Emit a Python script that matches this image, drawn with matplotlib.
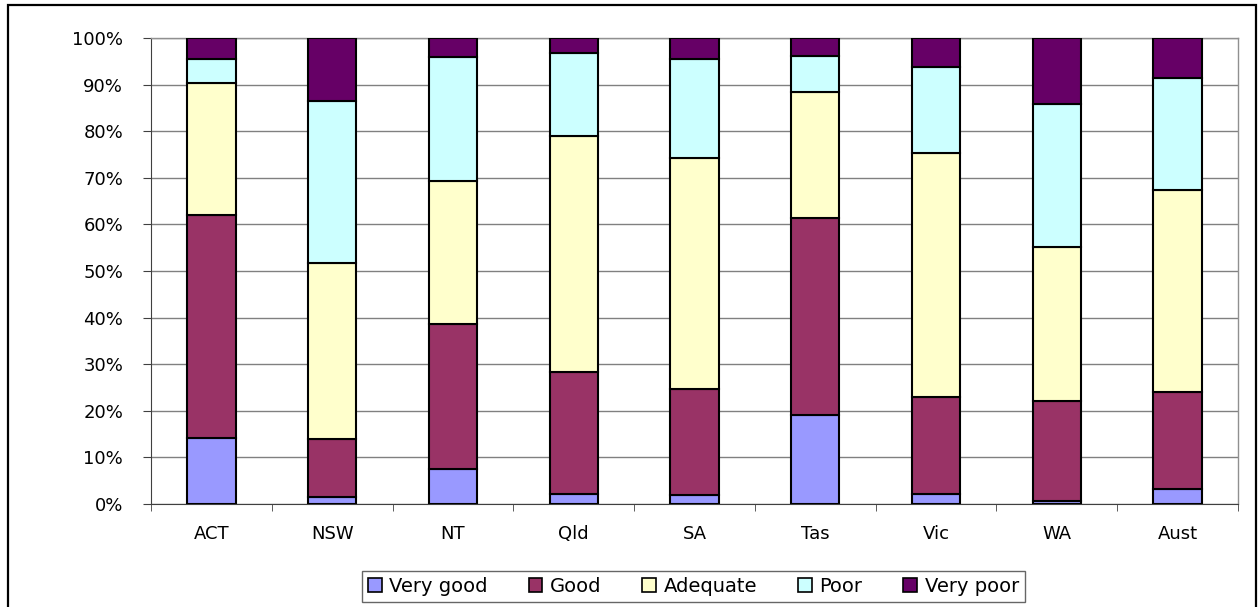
import matplotlib
matplotlib.use("Agg")
import matplotlib.pyplot as plt
import numpy as np
from matplotlib.patches import Rectangle
from matplotlib.ticker import FixedLocator, PercentFormatter

# Share of ratings per state (%)
states = ["ACT", "NSW", "NT", "Qld", "SA", "Tas", "Vic", "WA", "Aust"]
very_good = [14.2, 1.6, 7.5, 2.2, 1.9, 19.1, 2.2, 0.6, 3.2]
good = [47.8, 12.3, 31.1, 26.2, 22.8, 42.3, 20.8, 21.5, 20.8]
adequate = [28.4, 37.9, 30.7, 50.5, 49.6, 27.1, 52.3, 33.1, 43.4]
poor = [5.0, 34.7, 26.7, 17.8, 21.1, 7.6, 18.4, 30.6, 24.0]
very_poor = [4.6, 13.5, 4.0, 3.3, 4.6, 3.9, 6.3, 14.2, 8.6]

series = [very_good, good, adequate, poor, very_poor]
labels = ["Very good", "Good", "Adequate", "Poor", "Very poor"]
colors = ["#9999FF", "#993366", "#FFFFCC", "#CCFFFF", "#660066"]

plt.rcParams["font.family"] = ["DejaVu Sans"]

W, H = 1259, 607
fig = plt.figure(figsize=(W / 100, H / 100), dpi=100)
ax = fig.add_axes([151 / W, 1 - 504 / H, (1238 - 151) / W, (504 - 38) / H])

x = np.arange(len(states))
bottom = np.zeros(len(states))
for vals, lab, col in zip(series, labels, colors):
    ax.bar(x, vals, width=0.4, bottom=bottom, color=col, edgecolor="black",
           linewidth=1.5, label=lab, zorder=3)
    bottom += np.array(vals)

ax.set_xlim(-0.5, len(states) - 0.5)
ax.set_ylim(0, 100)
ax.yaxis.set_major_locator(FixedLocator(np.arange(0, 101, 10)))
ax.yaxis.set_major_formatter(PercentFormatter(decimals=0))
ax.grid(axis="y", color="#808080", linewidth=1.0, zorder=0)

ax.set_xticks(x)
ax.set_xticklabels(states)
ax.set_xticks(np.arange(-0.5, len(states)), minor=True)
ax.tick_params(axis="x", which="major", length=0, pad=15, labelsize=13)
ax.tick_params(axis="x", which="minor", length=5, color="#404040", direction="out")
ax.tick_params(axis="y", length=6, color="#404040", pad=14, labelsize=13)

for side in ["top", "right"]:
    ax.spines[side].set_color("#909090")
    ax.spines[side].set_linewidth(1.0)
ax.spines["left"].set_color("#404040")
ax.spines["bottom"].set_color("#404040")

leg = fig.legend(loc="center", bbox_to_anchor=(693.5 / W, 1 - 586.5 / H), ncol=5,
                 fontsize=14, frameon=True, fancybox=False, edgecolor="#404040",
                 handlelength=0.7, handleheight=0.7, handletextpad=0.4,
                 columnspacing=2.1, borderpad=0.3)
leg.get_frame().set_linewidth(1.0)
for h in leg.legend_handles:
    h.set_linewidth(1.2)

# outer chart border
fig.patches.append(Rectangle((8 / W, -0.02), (1256 - 8) / W, (H - 5) / H + 0.02,
                             transform=fig.transFigure, fill=False,
                             edgecolor="black", linewidth=1.6))

fig.savefig("out.png", dpi=100)
